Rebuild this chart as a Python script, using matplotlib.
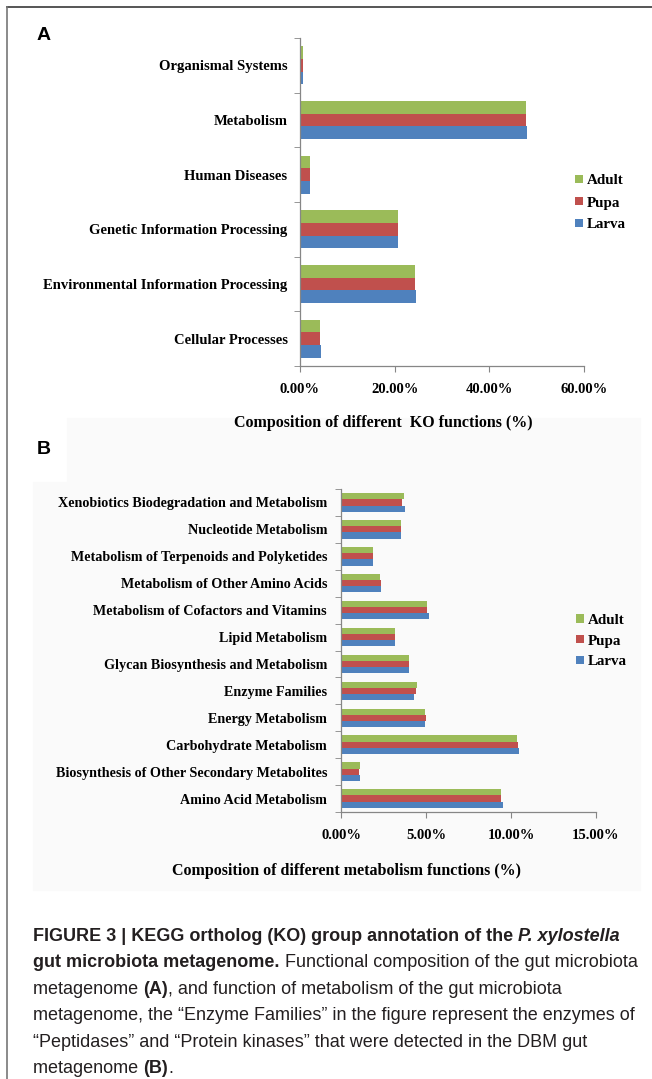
import matplotlib
matplotlib.use("Agg")
import matplotlib.pyplot as plt
from matplotlib.patches import Rectangle
from matplotlib.lines import Line2D
from matplotlib import font_manager
import numpy as np

W, H = 652, 1079

stages = ["Larva", "Pupa", "Adult"]
stage_colors = ["#4F81BD", "#C0504D", "#9BBB59"]

# KO function composition (%)
ko_categories = ["Cellular Processes", "Environmental Information Processing",
                 "Genetic Information Processing", "Human Diseases",
                 "Metabolism", "Organismal Systems"]
ko_larva = [4.4, 24.6, 20.6, 2.1, 47.9, 0.7]
ko_pupa = [4.3, 24.4, 20.7, 2.1, 47.7, 0.7]
ko_adult = [4.3, 24.4, 20.7, 2.1, 47.7, 0.7]
ko_ticks = [0, 20, 40, 60]

# metabolism function composition (%)
met_categories = ["Amino Acid Metabolism", "Biosynthesis of Other Secondary Metabolites",
                  "Carbohydrate Metabolism", "Energy Metabolism", "Enzyme Families",
                  "Glycan Biosynthesis and Metabolism", "Lipid Metabolism",
                  "Metabolism of Cofactors and Vitamins", "Metabolism of Other Amino Acids",
                  "Metabolism of Terpenoids and Polyketides", "Nucleotide Metabolism",
                  "Xenobiotics Biodegradation and Metabolism"]
met_larva = [9.55, 1.12, 10.49, 4.96, 4.29, 3.98, 3.17, 5.18, 2.38, 1.91, 3.54, 3.76]
met_pupa = [9.43, 1.06, 10.41, 5.02, 4.43, 3.98, 3.17, 5.06, 2.38, 1.91, 3.54, 3.60]
met_adult = [9.43, 1.12, 10.37, 4.96, 4.49, 3.98, 3.17, 5.06, 2.32, 1.91, 3.54, 3.68]
met_ticks = [0, 5, 10, 15]

axis_gray = "#868686"

plt.rcParams["font.family"] = "Liberation Serif"
plt.rcParams["font.weight"] = "bold"

fig = plt.figure(figsize=(W / 100, H / 100), dpi=100)


def fx(px):
    return px / W


def fy(py):
    return 1 - py / H


def px_rect(left, top, right, bottom):
    return [fx(left), fy(bottom), (right - left) / W, (bottom - top) / H]


def bar_panel(rect, categories, series, ticks, label_size, label_pad, legend_at, legend_spacing):
    ax = fig.add_axes(rect, facecolor="none")
    y = np.arange(len(categories))
    h = 0.23
    bars = []
    for k, (vals, name, color) in enumerate(zip(series, stages, stage_colors)):
        bars.append(ax.barh(y + (k - 1) * h, vals, height=h, color=color, label=name))
    ax.set_ylim(-0.5, len(categories) - 0.5)
    ax.set_xlim(ticks[0], ticks[-1])
    ax.set_yticks(y, categories, fontsize=label_size)
    ax.set_yticks(np.arange(len(categories) + 1) - 0.5, minor=True)
    ax.tick_params(axis="y", which="major", length=0, pad=label_pad)
    ax.tick_params(axis="y", which="minor", length=4, color=axis_gray, direction="out")
    ax.set_xticks(ticks, [f"{t:.2f}%" for t in ticks], fontsize=10.5)
    ax.tick_params(axis="x", length=4, color=axis_gray, pad=8)
    for side in ("top", "right"):
        ax.spines[side].set_visible(False)
    for side in ("left", "bottom"):
        ax.spines[side].set_color(axis_gray)
        ax.spines[side].set_linewidth(0.9)
    ax.legend(handles=bars[::-1], loc="center left",
              bbox_to_anchor=(fx(legend_at[0]), fy(legend_at[1])),
              bbox_transform=fig.transFigure, frameon=False, fontsize=10.8,
              borderpad=0, borderaxespad=0, handlelength=0.5, handleheight=0.5,
              handletextpad=0.3, labelspacing=legend_spacing)
    return ax


# faint paste-in background behind panel B
fig.add_artist(Rectangle((fx(67), fy(482)), (640 - 67) / W, (482 - 418) / H,
                         transform=fig.transFigure, color="#fafafa", zorder=-2))
fig.add_artist(Rectangle((fx(33), fy(890)), (640 - 33) / W, (890 - 482) / H,
                         transform=fig.transFigure, color="#fafafa", zorder=-2))

bar_panel(px_rect(300, 38, 584, 366), ko_categories, [ko_larva, ko_pupa, ko_adult],
          ko_ticks, 10.5, 9, (575, 203), 0.6)
bar_panel(px_rect(341, 489, 596, 812), met_categories, [met_larva, met_pupa, met_adult],
          met_ticks, 10.2, 10, (576, 641), 0.52)

fig.text(fx(383.5), fy(423), "Composition of different  KO functions (%)",
         ha="center", va="center", fontsize=11.5)
fig.text(fx(346.5), fy(871), "Composition of different metabolism functions (%)",
         ha="center", va="center", fontsize=11.5)

fig.text(fx(37), fy(36), "A", family="Liberation Sans", fontweight="bold", fontsize=14, va="center")
fig.text(fx(37), fy(450), "B", family="Liberation Sans", fontweight="bold", fontsize=14, va="center")

# frame lines on top and left
fig.add_artist(Line2D([fx(7), 1], [fy(7), fy(7)], color="#555555", lw=1.4))
fig.add_artist(Line2D([fx(7), fx(7)], [fy(7), 0], color="#777777", lw=1.2))

# caption, built from runs of differently styled text
font_names = {f.name for f in font_manager.fontManager.ttflist}
cap_family = "Liberation Sans Narrow" if "Liberation Sans Narrow" in font_names else "Liberation Sans"

caption = [
    [("FIGURE 3 | KEGG ortholog (KO) group annotation of the ", "bold", "normal"),
     ("P. xylostella", "bold", "italic")],
    [("gut microbiota metagenome.", "bold", "normal"),
     (" Functional composition of the gut microbiota", "normal", "normal")],
    [("metagenome ", "normal", "normal"), ("(A)", "bold", "normal"),
     (", and function of metabolism of the gut microbiota", "normal", "normal")],
    [("metagenome, the \u201cEnzyme Families\u201d in the figure represent the enzymes of",
      "normal", "normal")],
    [("\u201cPeptidases\u201d and \u201cProtein kinases\u201d that were detected in the DBM gut",
      "normal", "normal")],
    [("metagenome ", "normal", "normal"), ("(B)", "bold", "normal"), (".", "normal", "normal")],
]

renderer = fig.canvas.get_renderer()


def run_width(s, size, weight, style):
    kw = dict(family=cap_family, fontsize=size, fontweight=weight, fontstyle=style)
    t = fig.text(0, 0, s + "|", **kw)
    w1 = t.get_window_extent(renderer).width
    t.remove()
    t = fig.text(0, 0, "|", **kw)
    w2 = t.get_window_extent(renderer).width
    t.remove()
    return w1 - w2


probe = sum(run_width(s, 10, w, st) for s, w, st in caption[1])
cap_size = 10 * 607 / probe

for i, line in enumerate(caption):
    x = 33.0
    base = 941 + i * 26.4
    for s, w, st in line:
        fig.text(fx(x), fy(base), s, family=cap_family, fontsize=cap_size,
                 fontweight=w, fontstyle=st, color="#231f20", va="baseline", ha="left")
        x += run_width(s, cap_size, w, st)

fig.savefig("out.png", dpi=100)
